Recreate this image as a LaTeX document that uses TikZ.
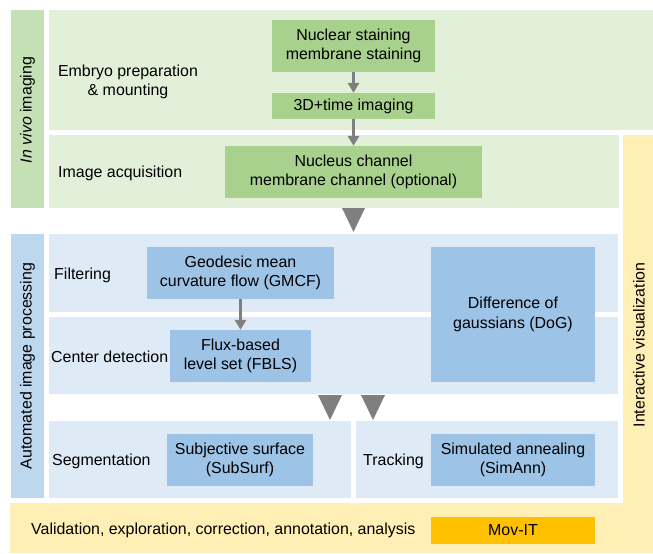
\documentclass[tikz,border=0pt]{standalone}
\usepackage{fontspec}
\setmainfont{Liberation Sans}
\usetikzlibrary{arrows.meta}
\definecolor{grnside}{HTML}{C5E0B4}
\definecolor{grnpanel}{HTML}{E2F0D9}
\definecolor{grnbox}{HTML}{A9D18E}
\definecolor{bluside}{HTML}{BDD7EE}
\definecolor{blupanel}{HTML}{DEEBF7}
\definecolor{blubox}{HTML}{9DC3E6}
\definecolor{yelpanel}{HTML}{FFEFB5}
\definecolor{movit}{HTML}{FFC000}
\definecolor{arrgray}{HTML}{7F7F7F}
\tikzset{
  txt/.style={font=\fontsize{13.6}{16.8}\selectfont, align=center, inner sep=0pt},
  gbox/.style={txt, fill=grnbox, minimum width=163*0.03cm, minimum height=52*0.03cm},
  bbox/.style={txt, fill=blubox, minimum height=52*0.03cm},
  flow/.style={draw=arrgray, line width=0.09cm, -{Triangle[length=0.3cm,width=0.34cm]}},
}
\begin{document}
\begin{tikzpicture}[x=0.03cm, y=-0.03cm]
\useasboundingbox (0,0) rectangle (653,553);
\fill[grnside] (11,10) rectangle (44,208); % in vivo bar
\fill[grnpanel] (49,10) rectangle (653,130); % embryo panel
\fill[grnpanel] (49,135) rectangle (619,208); % acquisition panel
\fill[bluside] (11,234) rectangle (44,498); % automated bar
\fill[blupanel] (49,234) rectangle (618,312); % filtering panel
\fill[blupanel] (49,317) rectangle (618,394); % center detection panel
\fill[blupanel] (49,421) rectangle (351,498); % segmentation panel
\fill[blupanel] (356,421) rectangle (618,498); % tracking panel
\fill[yelpanel] (10,503) -- (623,503) -- (623,135) -- (653,135) -- (653,553) -- (10,553) -- cycle; % interactive band

\node[txt, rotate=90] (vivo) at (27.5,110) {\textit{In vivo} imaging}; % side label
\node[txt, rotate=90] (auto) at (27.5,366) {Automated image processing}; % side label
\node[txt, rotate=90] (inter) at (639,345) {Interactive visualization}; % side label

\node[txt] (embryo) at (128,82) {Embryo preparation\\\& mounting};
\node[txt, anchor=west] (acq) at (58,173) {Image acquisition};
\node[txt, anchor=west] (filt) at (54,275) {Filtering};
\node[txt, anchor=west] (center) at (51,357) {Center detection};
\node[txt, anchor=west] (segm) at (52,461) {Segmentation};
\node[txt, anchor=west] (track) at (363,461) {Tracking};
\node[txt, anchor=west] (valid) at (31,530) {Validation, exploration, correction, annotation, analysis};

\node[gbox] (stain) at (353.5,46) {Nuclear staining\\membrane staining};
\node[gbox, minimum height=26*0.03cm] (imaging) at (353.5,106) {3D+time imaging};
\node[gbox, minimum width=257*0.03cm] (channel) at (353.5,172) {Nucleus channel\\membrane channel (optional)};
\node[bbox, minimum width=187*0.03cm] (gmcf) at (240.5,273) {Geodesic mean\\curvature flow (GMCF)};
\node[bbox, minimum width=141*0.03cm] (fbls) at (240.5,356) {Flux-based\\level set (FBLS)};
\node[bbox, minimum width=146*0.03cm] (subsurf) at (240,460) {Subjective surface\\(SubSurf)};
\node[bbox, minimum width=164*0.03cm, minimum height=135*0.03cm] (dog) at (513,314.5) {Difference of\\gaussians (DoG)};
\node[bbox, minimum width=164*0.03cm] (simann) at (513,460) {Simulated annealing\\(SimAnn)};
\node[txt, fill=movit, minimum width=164*0.03cm, minimum height=27*0.03cm] (mov) at (513,530.5) {Mov-IT};

\draw[flow] (stain) -- (imaging);
\draw[flow] (imaging) -- (channel);
\draw[flow] (gmcf) -- (fbls);

\fill[arrgray] (342,208) -- (365,208) -- (353.5,232) -- cycle; % to processing
\fill[arrgray] (318,395) -- (342,395) -- (330,420) -- cycle; % to segmentation
\fill[arrgray] (361,395) -- (385,395) -- (373,420) -- cycle; % to tracking

\end{tikzpicture}
\end{document}
